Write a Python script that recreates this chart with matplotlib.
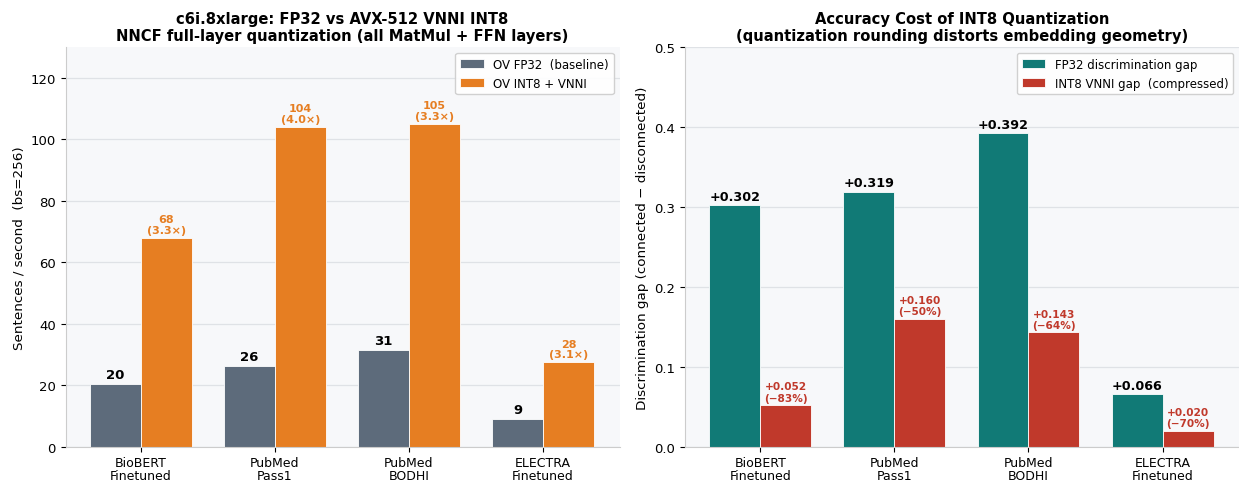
import matplotlib
matplotlib.use("Agg")
import matplotlib.pyplot as plt
import numpy as np

models = ["BioBERT\nFinetuned", "PubMed\nPass1", "PubMed\nBODHI", "ELECTRA\nFinetuned"]

fp32_tput = [20.4, 26.2, 31.3, 8.9]
int8_tput = [67.8, 104.0, 104.9, 27.4]
fp32_lbl = ["20", "26", "31", "9"]
int8_lbl = ["68\n(3.3×)", "104\n(4.0×)", "105\n(3.3×)", "28\n(3.1×)"]

fp32_gap = [0.302, 0.319, 0.392, 0.066]
int8_gap = [0.052, 0.160, 0.143, 0.020]
int8_gap_lbl = ["+0.052\n(−83%)", "+0.160\n(−50%)", "+0.143\n(−64%)", "+0.020\n(−70%)"]

C_FP32 = "#5d6b7b"
C_INT8 = "#e67e22"
C_TEAL = "#117a76"
C_RED = "#c0392b"
BG = "#f7f8fa"

x = np.arange(len(models))
w = 0.38

fig = plt.figure(figsize=(12.39, 4.85), dpi=100)
ax1 = fig.add_axes([0.053, 0.077, 0.447, 0.824])
ax2 = fig.add_axes([0.553, 0.077, 0.447, 0.824])

for ax in (ax1, ax2):
    ax.set_facecolor(BG)
    ax.grid(axis="y", color="#dfe2e6", linewidth=0.9)
    ax.set_axisbelow(True)
    for s in ("top", "right"):
        ax.spines[s].set_visible(False)
    for s in ("left", "bottom"):
        ax.spines[s].set_color("#cccccc")
    ax.set_xticks(x)
    ax.set_xticklabels(models, fontsize=9, linespacing=1.05)
    ax.set_xlim(-0.56, 3.57)
    ax.tick_params(axis="y", labelsize=9.5)
    ax.tick_params(axis="x", pad=3)

# left: throughput
ax1.bar(x - w / 2, fp32_tput, w, color=C_FP32, edgecolor="white", linewidth=0.6,
        label="OV FP32  (baseline)")
ax1.bar(x + w / 2, int8_tput, w, color=C_INT8, edgecolor="white", linewidth=0.6,
        label="OV INT8 + VNNI")
for i in range(len(models)):
    ax1.text(x[i] - w / 2, fp32_tput[i] + 1, fp32_lbl[i], ha="center", va="bottom",
             fontsize=9.5, fontweight="bold", color="black")
    ax1.text(x[i] + w / 2, int8_tput[i] + 1, int8_lbl[i], ha="center", va="bottom",
             fontsize=8, fontweight="bold", color=C_INT8, linespacing=1.1)
ax1.set_ylim(0, 130)
ax1.set_yticks(range(0, 121, 20))
ax1.set_ylabel("Sentences / second  (bs=256)", fontsize=9.7)
ax1.set_title("c6i.8xlarge: FP32 vs AVX-512 VNNI INT8\nNNCF full-layer quantization (all MatMul + FFN layers)",
              fontsize=10.6, fontweight="bold", pad=5)
ax1.legend(loc="upper right", fontsize=8.5, framealpha=0.9)

# right: accuracy gap
ax2.bar(x - w / 2, fp32_gap, w, color=C_TEAL, edgecolor="white", linewidth=0.6,
        label="FP32 discrimination gap")
ax2.bar(x + w / 2, int8_gap, w, color=C_RED, edgecolor="white", linewidth=0.6,
        label="INT8 VNNI gap  (compressed)")
for i in range(len(models)):
    ax2.text(x[i] - w / 2, fp32_gap[i] + 0.003, f"+{fp32_gap[i]:.3f}", ha="center", va="bottom",
             fontsize=9.2, fontweight="bold", color="black")
    ax2.text(x[i] + w / 2, int8_gap[i] + 0.003, int8_gap_lbl[i], ha="center", va="bottom",
             fontsize=7.6, fontweight="bold", color=C_RED, linespacing=1.15)
ax2.set_ylim(0, 0.5)
ax2.set_ylabel("Discrimination gap (connected − disconnected)", fontsize=9.7)
ax2.set_title("Accuracy Cost of INT8 Quantization\n(quantization rounding distorts embedding geometry)",
              fontsize=10.6, fontweight="bold", pad=5)
ax2.legend(loc="upper right", fontsize=8.5, framealpha=0.9)

fig.savefig("out.png", dpi=100)
